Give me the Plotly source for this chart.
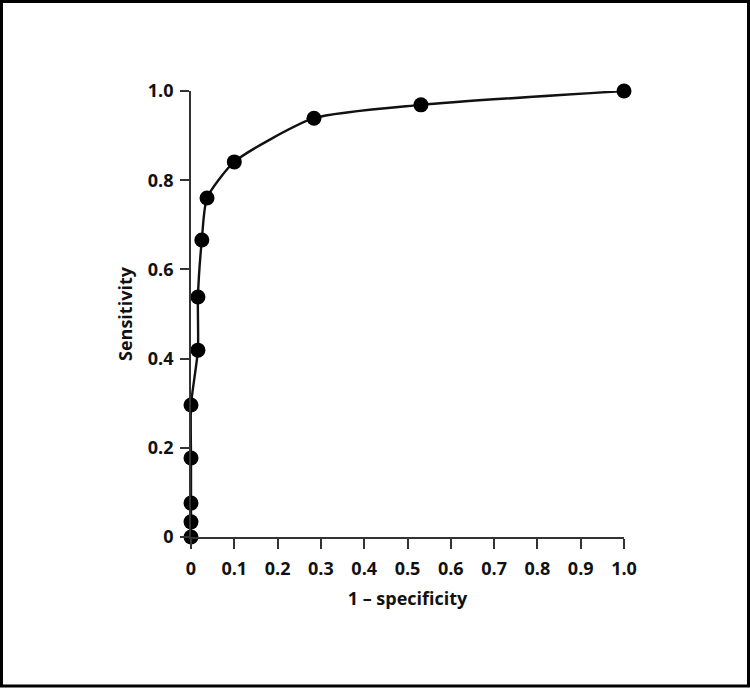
import plotly.graph_objects as go

fpr = [0.0, 0.0, 0.0, 0.0, 0.0, 0.016, 0.016, 0.025, 0.037, 0.10, 0.284, 0.531, 1.0]
tpr = [0.0, 0.034, 0.076, 0.177, 0.296, 0.419, 0.538, 0.666, 0.760, 0.841, 0.939, 0.969, 1.0]

tick_vals = [0, 0.1, 0.2, 0.3, 0.4, 0.5, 0.6, 0.7, 0.8, 0.9, 1.0]
x_tick_text = ["0", "0.1", "0.2", "0.3", "0.4", "0.5", "0.6", "0.7", "0.8", "0.9", "1.0"]
y_tick_vals = [0, 0.2, 0.4, 0.6, 0.8, 1.0]
y_tick_text = ["0", "0.2", "0.4", "0.6", "0.8", "1.0"]

W, H = 750, 688
L, R, T, B = 191, 126, 91, 151
pw, ph = W - L - R, H - T - B

font = dict(family="Open Sans, Segoe UI, sans-serif", size=18, color="#111", weight=700)

fig = go.Figure()
fig.add_trace(go.Scatter(
    x=fpr, y=tpr, mode="lines", line=dict(color="#111", width=2.4, shape="spline", smoothing=0.6),
    cliponaxis=False, hoverinfo="skip", showlegend=False))
fig.add_trace(go.Scatter(
    x=fpr, y=tpr, mode="markers", marker=dict(color="#000", size=15),
    cliponaxis=False, showlegend=False))

axis_common = dict(showline=True, linecolor="#333", linewidth=1.8, ticks="outside",
                   tickcolor="#333", tickwidth=1.8, showgrid=False, zeroline=False,
                   tickfont=font, automargin=False)
fig.update_xaxes(range=[0, 1], tickvals=tick_vals, ticktext=x_tick_text, ticklen=10,
                 ticklabelstandoff=4,
                 title=dict(text="1 – specificity", font=font, standoff=14), **axis_common)
fig.update_yaxes(range=[0, 1], tickvals=y_tick_vals, ticktext=y_tick_text, ticklen=9,
                 ticklabelstandoff=3,
                 title=dict(text="Sensitivity", font=font, standoff=10), **axis_common)

fig.add_shape(type="rect", xref="paper", yref="paper",
              x0=(1.5 - L) / pw, x1=(748.5 - L) / pw,
              y0=(H - 686 - B) / ph, y1=(H - 1.5 - B) / ph,
              line=dict(color="#000", width=3), fillcolor="rgba(0,0,0,0)", layer="above")

fig.update_layout(width=W, height=H, margin=dict(l=L, r=R, t=T, b=B, autoexpand=False),
                  plot_bgcolor="white", paper_bgcolor="white", font=font)
fig.write_html("out.html", config={"displayModeBar": False},
               post_script="document.body.style.margin='0px';document.body.style.overflow='hidden';")
